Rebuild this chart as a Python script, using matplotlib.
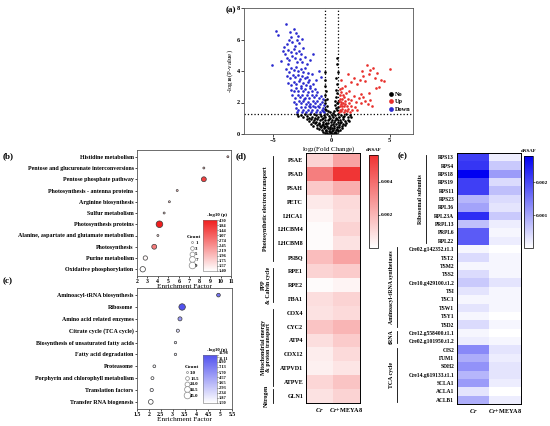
import numpy as np
import matplotlib
matplotlib.use("Agg")
import matplotlib.pyplot as plt
from matplotlib.colors import LinearSegmentedColormap, LogNorm, Normalize
from matplotlib.cm import ScalarMappable
from matplotlib.lines import Line2D

plt.rcParams['font.family'] = 'Liberation Serif'
plt.rcParams['font.weight'] = 'bold'
plt.rcParams['mathtext.fontset'] = 'custom'
plt.rcParams['mathtext.rm'] = 'Liberation Serif:bold'
plt.rcParams['mathtext.it'] = 'Liberation Serif:italic:bold'
plt.rcParams['axes.linewidth'] = 0.6

# ---------------- (a) volcano data: (log2 FC, -log10 p) ----------------
down_pts = [(-3.90,7.00),(-4.75,6.55),(-4.55,6.30),(-3.20,6.65),(-3.05,6.40),(-2.90,6.25),(-3.45,6.15),
            (-3.65,5.95),(-3.35,5.85),(-2.75,5.80),(-2.55,6.05),(-3.80,5.70),(-4.05,5.55),(-3.10,5.60),
            (-2.95,5.95),(-3.55,6.45),
            (-4.15,5.25),(-3.95,5.10),(-3.70,5.35),(-3.50,5.20),(-3.25,5.40),(-3.05,5.15),(-2.80,5.30),
            (-2.60,5.05),(-2.40,5.45),(-3.85,4.85),(-3.60,4.70),(-3.35,4.95),(-3.15,4.80),(-2.95,4.60),
            (-2.70,4.75),(-2.50,4.55),(-2.25,4.90),(-2.10,4.45),(-4.30,4.65),(-3.75,4.45),(-1.85,4.70),
            (-5.10,4.35),(-1.55,5.05),
            (-3.90,4.10),(-3.65,3.95),(-3.45,4.20),(-3.25,4.05),(-3.05,4.25),(-2.85,4.00),(-2.65,4.15),
            (-2.45,3.95),(-2.25,4.20),(-2.05,3.90),(-3.80,3.70),(-3.55,3.55),(-3.30,3.75),(-3.10,3.60),
            (-2.90,3.75),(-2.70,3.50),(-2.50,3.70),(-2.30,3.55),(-2.10,3.65),(-1.90,3.45),(-1.70,3.80),
            (-3.70,3.25),(-3.45,3.10),(-3.20,3.30),(-3.00,3.15),(-2.80,3.35),(-2.60,3.05),(-2.40,3.25),
            (-2.20,3.10),(-2.00,3.30),(-1.80,3.05),(-1.55,3.20),(-3.50,2.80),(-3.25,2.70),(-3.05,2.90),
            (-2.85,2.75),(-2.65,2.95),(-2.45,2.70),(-2.25,2.85),(-2.05,2.65),(-1.85,2.90),(-1.65,2.70),
            (-1.40,2.85),(-1.20,2.65),(-0.90,3.60),(-1.10,4.00),(-1.35,3.40),
            (-3.35,2.45),(-3.10,2.30),(-2.90,2.50),(-2.70,2.35),(-2.50,2.50),(-2.30,2.30),(-2.10,2.45),
            (-1.90,2.30),(-1.70,2.50),(-1.50,2.35),(-1.30,2.45),(-1.10,2.30),(-0.90,2.40),(-0.70,2.25),
            (-3.20,2.05),(-3.00,1.90),(-2.80,2.10),(-2.60,1.95),(-2.40,2.10),(-2.20,1.90),(-2.00,2.05),
            (-1.80,1.90),(-1.60,2.10),(-1.40,1.95),(-1.20,2.10),(-1.00,1.90),(-0.80,2.05),(-0.65,1.85),
            (-3.05,1.65),(-2.85,1.55),(-2.65,1.70),(-2.45,1.55),(-2.25,1.70),(-2.05,1.55),(-1.85,1.70),
            (-1.65,1.55),(-1.45,1.70),(-1.25,1.55),(-1.05,1.70),(-0.85,1.55),(-0.70,1.65),(-2.95,1.40),
            (-2.55,1.38),(-2.15,1.42),(-1.75,1.38),(-1.35,1.40),(-0.95,1.38),(-0.62,1.42),(-2.35,2.20),
            (-1.95,1.80),(-1.55,1.80),(-1.15,1.80),(-0.75,1.45)]

up_pts = [(0.65,1.40),(0.75,1.55),(0.85,1.45),(0.95,1.60),(1.05,1.40),(1.15,1.55),(1.30,1.45),(1.45,1.60),
          (1.60,1.40),(1.80,1.50),(0.70,1.75),(0.80,1.90),(0.90,1.80),(1.00,1.95),(1.10,1.75),(1.20,1.90),
          (1.35,1.80),(1.50,1.95),(1.70,1.75),(0.65,2.10),(0.75,2.25),(0.85,2.05),(0.95,2.20),(1.05,2.35),
          (1.20,2.10),(1.40,2.25),(1.65,2.15),(0.70,2.50),(0.85,2.65),(1.00,2.45),(1.25,2.60),(0.70,2.85),
          (0.95,2.95),(1.55,2.70),(1.15,3.05),(1.90,2.40),(2.00,1.70),(2.20,1.55),(2.10,2.05),(2.35,2.30),
          (2.55,2.55),(2.50,1.95),(2.75,2.35),(2.90,2.10),(3.10,1.90),(3.30,2.15),(3.50,1.75),(3.20,2.60),
          (1.70,3.30),(1.95,3.55),(2.20,3.20),(2.45,3.45),(2.70,3.70),(2.90,3.35),(3.05,4.35),(3.35,4.05),
          (3.55,4.20),(3.70,3.55),(3.95,3.90),(4.25,3.40),(4.55,3.35),(5.00,4.10),(2.65,4.00),(3.25,3.80),
          (1.45,3.80),(0.80,3.40),(3.80,2.90),(4.10,3.00)]

ns_pts = [(0.50,4.85),(0.47,4.45),(0.53,3.95),(0.41,3.55),(0.49,3.15),(0.36,2.82),(0.52,2.58),(0.43,2.33),
          (0.31,2.12),(0.46,1.97),(0.27,1.81),(0.39,1.66),(0.51,1.52),(0.22,1.46),(0.55,2.03),(0.56,1.74),
          (0.12,1.36),(-0.55,3.92),(-0.51,3.42),(-0.57,3.02),(-0.46,2.71),(-0.56,2.46),(-0.41,2.21),
          (-0.52,1.96),(-0.36,1.77),(-0.53,1.61),(-0.31,1.46),(-0.16,1.41),(-0.58,2.16),(-0.44,1.52),
          (-2.62,1.21),(-2.41,1.08),(-2.27,1.26),(-2.08,1.13),(-1.93,1.02),(-1.81,1.24),(-1.66,1.11),
          (-1.52,1.28),(-1.41,1.04),(-1.29,1.19),(-1.14,1.07),(-1.02,1.25),(-0.88,1.12),(-0.76,1.01),
          (-0.63,1.22),(-0.51,1.09),(-0.38,1.27),(-0.24,1.14),(-0.11,1.03),(0.03,1.23),(0.16,1.08),
          (0.29,1.19),(0.42,1.02),(0.57,1.26),(0.68,1.11),(0.83,1.21),(0.97,1.05),(1.12,1.17),(1.28,1.24),
          (1.41,1.09),(1.58,1.19),(1.72,1.06),(-2.83,1.15),(-2.95,1.27),
          (-2.12,0.93),(-1.95,0.81),(-1.77,0.97),(-1.62,0.74),(-1.48,0.88),(-1.33,0.79),(-1.21,0.95),
          (-1.07,0.72),(-0.94,0.86),(-0.81,0.98),(-0.69,0.77),(-0.56,0.91),(-0.43,0.73),(-0.31,0.87),
          (-0.18,0.96),(-0.06,0.78),(0.08,0.92),(0.19,0.75),(0.33,0.89),(0.46,0.97),(0.59,0.76),
          (0.72,0.88),(0.86,0.79),(0.99,0.94),(1.13,0.83),(1.26,0.71),(1.39,0.91),(1.52,0.85),
          (-1.71,0.62),(-1.54,0.51),(-1.38,0.67),(-1.24,0.55),(-1.09,0.63),(-0.97,0.48),(-0.84,0.58),
          (-0.72,0.66),(-0.61,0.49),(-0.49,0.61),(-0.37,0.53),(-0.26,0.68),(-0.13,0.47),(-0.02,0.59),
          (0.11,0.65),(0.23,0.51),(0.36,0.62),(0.48,0.46),(0.61,0.57),(0.74,0.68),(0.88,0.52),
          (1.01,0.63),(1.16,0.55),
          (-1.22,0.38),(-1.06,0.29),(-0.92,0.42),(-0.79,0.24),(-0.67,0.35),(-0.55,0.43),(-0.44,0.27),
          (-0.33,0.39),(-0.21,0.22),(-0.09,0.33),(0.02,0.41),(0.14,0.26),(0.26,0.37),(0.38,0.23),
          (0.51,0.34),(0.63,0.42),(0.77,0.28),(0.91,0.36),
          (-0.72,0.14),(-0.58,0.06),(-0.46,0.17),(-0.34,0.09),(-0.23,0.03),(-0.12,0.15),(-0.01,0.07),
          (0.09,0.18),(0.19,0.04),(0.31,0.12),(0.43,0.05),(0.56,0.16),(0.05,0.01)]

fc_cut = 0.58
p_cut = 1.3

# ---------------- (b) KEGG enrichment, up ----------------
b_terms = ['Histidine metabolism', 'Pentose and glucuronate interconversions', 'Pentose phosphate pathway',
           'Photosynthesis - antenna proteins', 'Arginine biosynthesis', 'Sulfur metabolism',
           'Photosynthesis proteins', 'Alanine, aspartate and glutamate metabolism', 'Photosynthesis',
           'Purine metabolism', 'Oxidative phosphorylation']
b_factor = [10.7, 8.4, 8.4, 5.85, 5.1, 4.6, 4.15, 4.0, 3.65, 2.8, 2.55]
b_count = [1, 1, 5, 1, 1, 1, 9, 1, 5, 4, 6]
b_logp = [2.0, 2.0, 3.6, 1.9, 1.8, 1.75, 4.3, 1.7, 2.7, 1.45, 1.40]
b_cbar_ticks = [1.40, 1.57, 1.75, 1.96, 2.19, 2.45, 2.74, 3.07, 3.44, 3.84, 4.30]
b_legend_counts = [1, 3, 5, 7, 9]
b_xticks = [2, 3, 4, 5, 6, 7, 8, 9, 10, 11]

# ---------------- (c) KEGG enrichment, down ----------------
c_terms = ['Aminoacyl-tRNA biosynthesis', 'Ribosome', 'Amino acid related enzymes', 'Citrate cycle (TCA cycle)',
           'Biosynthesis of unsaturated fatty acids', 'Fatty acid degradation', 'Proteasome',
           'Porphyrin and chlorophyll metabolism', 'Translation factors', 'Transfer RNA biogenesis']
c_factor = [4.93, 3.4, 3.31, 3.22, 3.12, 3.12, 2.23, 2.15, 2.12, 2.08]
c_count = [13, 42, 16, 9, 5, 5, 7, 8, 10, 22]
c_logp = [8.0, 11.98, 5.0, 2.3, 1.9, 1.8, 1.6, 1.55, 1.6, 1.5]
c_cbar_ticks = [1.50, 1.87, 2.34, 2.93, 3.65, 4.57, 5.70, 7.13, 8.90, 11.11, 11.98]
c_legend_counts = [3.0, 13.5, 24.0, 34.5, 45.0]
c_xticks = [1.5, 2.0, 2.5, 3.0, 3.5, 4.0, 4.5, 5.0, 5.5]

# ---------------- (d) heatmap, dNSAF ----------------
samples = [r'$\mathit{Cr}$', r'$\mathit{Cr}$+MEYA8']
d_genes = ['PSAE', 'PSAD', 'PSAH', 'PETC', 'LHCA1', 'LHCBM4', 'LHCBM8', 'PSBQ', 'RPE1', 'RPE2', 'FBA1',
           'COX4', 'CYC2', 'ATP4', 'COX12', 'ATPVD1', 'ATPVE', 'GLN1']
d_cr = [0.0012, 0.0035, 0.0015, 0.0006, 0.0003, 0.0001, 0.0001, 0.0018, 0.0012, 0.0001, 0.0009,
        0.0008, 0.0016, 0.0009, 0.0005, 0.0004, 0.0011, 0.0008]
d_meya = [0.0025, 0.0055, 0.0022, 0.0010, 0.0009, 0.0012, 0.0008, 0.0025, 0.0014, 0.0003, 0.0012,
          0.0010, 0.0020, 0.0014, 0.0010, 0.0007, 0.0016, 0.0012]
d_groups = [('Photosynthetic electron transport', 0, 7), ('PPP\n& Calvin cycle', 8, 10),
            ('Mitochondrial energy\n& proton transport', 11, 16), ('Nitrogen', 17, 17)]

# ---------------- (e) heatmap, dNSAF ----------------
e_genes = ['RPS13', 'RPS4', 'RPS18', 'RPS19', 'RPS11', 'RPS23', 'RPL36', 'RPL23A', 'PRPL13', 'PRPL6', 'RPL22',
           'Cre02.g142352.t1.1', 'TST2', 'TSM2', 'TSS2', 'Cre10.g429100.t1.2', 'TSI', 'TSC1', 'TSW1', 'TSY1',
           'TSD2', 'Cre12.g558400.t1.1', 'Cre02.g101950.t1.2', 'CIS2', 'FUM1', 'SDH2', 'Cre14.g619133.t1.1',
           'SCLA1', 'ACLA1', 'ACLB1']
e_cr = [0.0021, 0.0022, 0.0028, 0.0021, 0.0021, 0.0008, 0.0010, 0.0023, 0.0007, 0.0018, 0.0018,
        0.0001, 0.0004, 0.0001, 0.0004, 0.0006, 0.0003, 0.0001, 0.0003, 0.0001, 0.0004,
        0.0001, 0.0002, 0.0013, 0.0009, 0.0012, 0.0008, 0.0011, 0.0003, 0.0009]
e_meya = [0.0002, 0.0006, 0.0011, 0.0004, 0.0007, 0.0004, 0.0003, 0.0006, 0.0002, 0.0001, 0.0002,
          0.0000, 0.0001, 0.0001, 0.0001, 0.0003, 0.0001, 0.0001, 0.0001, 0.0000, 0.0001,
          0.0000, 0.0001, 0.0003, 0.0002, 0.0003, 0.0003, 0.0002, 0.0000, 0.0002]
e_groups_near = [('Ribosomal subunits', 0, 10)]
e_groups_far = [('Aminoacyl-tRNA synthetases', 11, 20), ('tRNA', 21, 22), ('TCA cycle', 23, 29)]

red_cmap = LinearSegmentedColormap.from_list('wr', ['#ffffff', '#f01e1e'])
blue_cmap = LinearSegmentedColormap.from_list('wb', ['#ffffff', '#5252ee'])
d_cmap = LinearSegmentedColormap.from_list('wr2', ['#ffffff', '#f03232'])
e_cmap = LinearSegmentedColormap.from_list('wb2', ['#ffffff', '#0000f2'])

W, H = 550, 426


def box(l, t, r, b):
    return [l / W, 1 - b / H, (r - l) / W, (b - t) / H]


fig = plt.figure(figsize=(5.5, 4.26), dpi=100)

# ===== (a) volcano =====
ax = fig.add_axes(box(244, 8, 413, 134))
ns = np.array(ns_pts)
dn = np.array(down_pts)
up = np.array(up_pts)
ax.scatter(ns[:, 0], ns[:, 1], s=3.6, c='black', lw=0, label='No')
ax.scatter(up[:, 0], up[:, 1], s=3.6, c='#e8302c', lw=0, label='Up')
ax.scatter(dn[:, 0], dn[:, 1], s=3.6, c='#2b2bcf', lw=0, label='Down')
for xv in (-fc_cut, fc_cut):
    ax.axvline(xv, ls=':', color='k', lw=0.9)
ax.axhline(p_cut, ls=':', color='k', lw=0.9)
ax.set_xlim(-7.5, 7)
ax.set_ylim(0, 8)
ax.set_xticks([-5, 0, 5])
ax.set_yticks([0, 2, 4, 6, 8])
ax.tick_params(labelsize=4.5, length=2, width=0.5, pad=1)
for s in ax.spines.values():
    s.set_color('#555555')
ax.set_xlabel('log$_2$(Fold Change)', fontsize=5, labelpad=1)
ax.set_ylabel('-log$_{10}$(P-value)', fontsize=5, labelpad=1)
h, l = ax.get_legend_handles_labels()
ax.legend([h[0], h[1], h[2]], ['No', 'Up', 'Down'], loc='upper left', bbox_to_anchor=(385 / W, 1 - 88 / H),
          bbox_transform=fig.transFigure, frameon=False, fontsize=4.5, markerscale=1.8,
          handletextpad=0.1, labelspacing=0.35, borderpad=0, handlelength=1)


def dot_panel(box_px, terms, factor, counts, logp, cmap, norm, xlim, xticks, size_fn, cbar_box, cbar_ticks,
              leg_counts, leg_anchor, leg_fmt):
    bx = fig.add_axes(box(*box_px))
    ypos = np.arange(len(terms))[::-1]
    bx.scatter(factor, ypos, s=[size_fn(c) for c in counts], c=logp, cmap=cmap, norm=norm,
               edgecolors='#3a3a3a', linewidths=0.5, zorder=3)
    bx.set_xlim(*xlim)
    bx.set_ylim(-0.6, len(terms) - 0.4)
    bx.set_yticks(ypos)
    bx.set_yticklabels(terms, fontsize=4.3)
    bx.set_xticks(xticks)
    bx.set_xticklabels([f'{t:g}' for t in xticks], fontsize=4.2)
    bx.tick_params(length=1.5, width=0.5, pad=1)
    bx.set_xlabel('Enrichment Factor', fontsize=5.2, labelpad=0)
    for s in bx.spines.values():
        s.set_color('#555555')
    cax = fig.add_axes(box(*cbar_box))
    cb = fig.colorbar(ScalarMappable(norm=norm, cmap=cmap), cax=cax)
    cb.minorticks_off()
    cb.set_ticks(cbar_ticks)
    cb.set_ticklabels([f'{t:.2f}' for t in cbar_ticks])
    cax.tick_params(labelsize=3.2, length=1, width=0.4, pad=0.5)
    # the two top ticks can sit very close: push their labels apart
    span = np.log(cbar_ticks[-1]) - np.log(cbar_ticks[0])
    if (np.log(cbar_ticks[-1]) - np.log(cbar_ticks[-2])) / span < 0.08:
        tl = cax.get_yticklabels()
        tl[-1].set_va('bottom')
        tl[-2].set_va('top')
    cb.outline.set_linewidth(0.4)
    cb.outline.set_edgecolor('#777777')
    fig.text((cbar_box[0] + cbar_box[2]) / 2 / W + 0.012, 1 - (cbar_box[1] - 5) / H, '-log10 (p)',
             fontsize=3.5, ha='center', va='center')
    handles = [Line2D([], [], ls='', marker='o', markersize=np.sqrt(size_fn(c)), markerfacecolor='white',
                      markeredgecolor='#888888', markeredgewidth=0.5) for c in leg_counts]
    bx.legend(handles, [leg_fmt(c) for c in leg_counts], title='Count', loc='upper left',
              bbox_to_anchor=leg_anchor, bbox_transform=fig.transFigure, frameon=False, fontsize=3.5,
              title_fontsize=3.8, handletextpad=0.2, labelspacing=0.25, borderpad=0, handlelength=1)
    return bx


dot_panel((137, 150, 231, 276), b_terms, b_factor, b_count, b_logp, red_cmap, LogNorm(1.40, 4.30),
          (2, 11), b_xticks, lambda c: 2 + (c - 1) * 2.6, (203, 220, 217, 271), b_cbar_ticks,
          b_legend_counts, (184 / W, 1 - 233 / H), lambda c: f'{c:d}')
dot_panel((137, 288, 232, 409), c_terms, c_factor, c_count, c_logp, blue_cmap, LogNorm(1.50, 11.98),
          (1.5, 5.5), c_xticks, lambda c: 2 + (c - 3) * 0.5, (203, 355, 217, 403), c_cbar_ticks,
          c_legend_counts, (182 / W, 1 - 363 / H), lambda c: f'{c:.1f}')


def heat_panel(box_px, genes, col1, col2, cmap, vmax, cbar_box, cbar_ticks, label_fs):
    hx = fig.add_axes(box(*box_px))
    vals = np.column_stack([col1, col2])
    hx.imshow(vals, cmap=cmap, vmin=0, vmax=vmax, aspect='auto', interpolation='nearest')
    hx.set_yticks(range(len(genes)))
    hx.set_yticklabels(genes, fontsize=label_fs)
    hx.set_xticks([0, 1])
    hx.set_xticklabels(samples, fontsize=4.5)
    hx.tick_params(length=0, pad=2)
    for s in hx.spines.values():
        s.set_linewidth(0.7)
    cax = fig.add_axes(box(*cbar_box))
    cb = fig.colorbar(ScalarMappable(norm=Normalize(0, vmax), cmap=cmap), cax=cax)
    cb.set_ticks(cbar_ticks)
    cb.set_ticklabels([f'{t:.3f}' for t in cbar_ticks])
    cax.tick_params(labelsize=3.8, length=1.2, width=0.4, pad=1)
    cb.outline.set_linewidth(0.5)
    fig.text((cbar_box[0] + cbar_box[2]) / 2 / W, 1 - (cbar_box[1] - 5) / H, 'dNSAF', fontsize=3.6,
             ha='center', va='center')
    return hx


def group_labels(hx, groups, x_text, x_line, left_px, width_px):
    tr = hx.get_yaxis_transform()
    for name, r0, r1 in groups:
        xt = (x_text - left_px) / width_px
        hx.text(xt, (r0 + r1) / 2, name, rotation=90, ha='center', va='center', fontsize=4.2,
                transform=tr, linespacing=1.0, clip_on=False)
        xl = (x_line - left_px) / width_px
        pad = 0.15 if r1 > r0 else -0.1
        hx.plot([xl, xl], [r0 - 0.4 + pad, r1 + 0.4 - pad], transform=tr, color='k', lw=0.6, clip_on=False)


dx = heat_panel((306, 153, 360, 403), d_genes, d_cr, d_meya, d_cmap, 0.0056, (369, 155, 378, 248),
                [0.002, 0.004], 4.3)
group_labels(dx, d_groups, 266, 273, 306, 54)

ex = heat_panel((457, 153, 521, 404), e_genes, e_cr, e_meya, e_cmap, 0.0028, (524, 156, 533, 248),
                [0.001, 0.002], 4.0)
group_labels(ex, e_groups_near, 420, 426, 457, 64)
group_labels(ex, e_groups_far, 391, 397, 457, 64)

for lab, xp, yp in [('(a)', 226, 10), ('(b)', 3, 156), ('(c)', 3, 281), ('(d)', 236, 156), ('(e)', 398, 156)]:
    fig.text(xp / W, 1 - yp / H, lab, fontsize=6.5, ha='left', va='center')

fig.savefig('out.png', dpi=100)
